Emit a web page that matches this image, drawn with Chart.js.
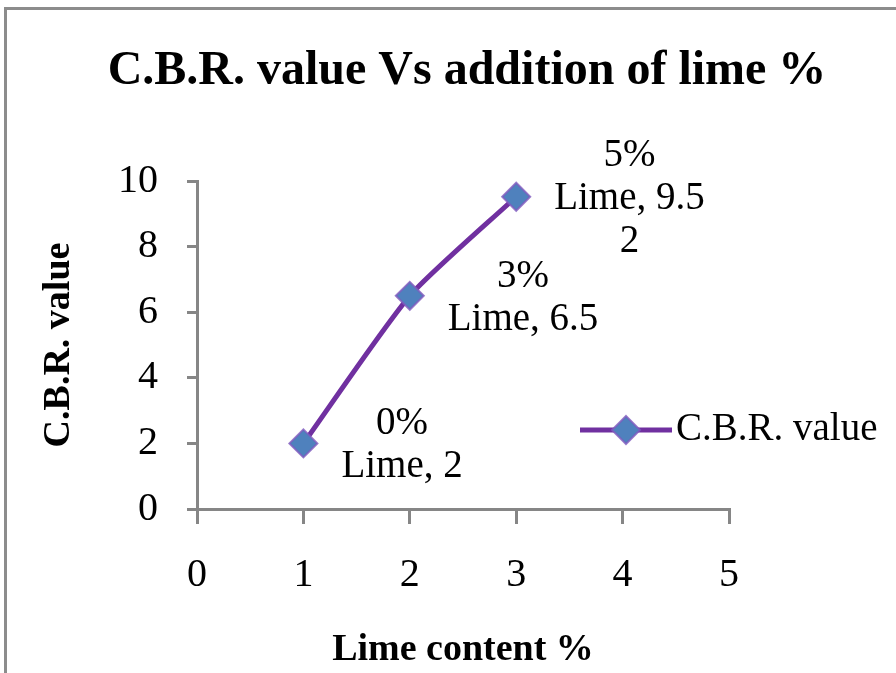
<!DOCTYPE html>
<html>
<head>
<meta charset="utf-8">
<script src="https://cdn.jsdelivr.net/npm/chart.js@4.4.1/dist/chart.umd.min.js"></script>
<style>
  html, body { margin: 0; padding: 0; background: #fff; }
  #cbr_chart { display: block; background: #fff; }
</style>
</head>
<body>
<canvas id="cbr_chart" width="896" height="673"></canvas>
<script>
// values
const limeContent = [1, 2, 3];
const cbrValues = [2, 6.5, 9.52];
const pointLabels = [["0%", "Lime, 2"], ["3%", "Lime, 6.5"], ["5%", "Lime, 9.5", "2"]];
const seriesName = "C.B.R. value";
const chartTitle = "C.B.R. value Vs addition of lime %";
const xTitle = "Lime content %";
const yTitle = "C.B.R. value";

const LINE_COLOR = "#7030A0";
const MARKER_COLOR = "#4F81BD";
const MARKER_EDGE = "rgba(128,90,190,0.8)";
const AXIS_COLOR = "#868686";
const SERIF = "'Liberation Serif', 'Times New Roman', serif";

const ctx = document.getElementById("cbr_chart").getContext("2d");

// gray border of the chart area (only left and top edges show)
const framePlugin = {
  id: "frame",
  beforeDraw(chart) {
    const c = chart.ctx;
    c.save();
    c.fillStyle = "#fff";
    c.fillRect(0, 0, chart.width, chart.height);
    c.strokeStyle = "#8c8c8c";
    c.lineWidth = 3;
    c.beginPath();
    c.moveTo(5.5, chart.height);
    c.lineTo(5.5, 8.5);
    c.lineTo(chart.width, 8.5);
    c.stroke();
    c.restore();
  },
};

function diamond(c, x, y, r) {
  c.beginPath();
  c.moveTo(x, y - r);
  c.lineTo(x + r, y);
  c.lineTo(x, y + r);
  c.lineTo(x - r, y);
  c.closePath();
  c.fillStyle = MARKER_COLOR;
  c.fill();
  c.strokeStyle = MARKER_EDGE;
  c.lineWidth = 2;
  c.stroke();
}

// data labels to the right of each point, wrapped like excel does
const pointLabelPlugin = {
  id: "pointLabels",
  afterDatasetsDraw(chart) {
    const meta = chart.getDatasetMeta(0);
    const c = chart.ctx;
    const lineH = 43;
    c.save();
    c.font = "39px " + SERIF;
    c.fillStyle = "#000";
    c.textAlign = "center";
    c.textBaseline = "middle";
    meta.data.forEach((pt, i) => {
      const lines = pointLabels[i];
      const w = Math.max(...lines.map((s) => c.measureText(s).width));
      const cx = pt.x + 38 + w / 2;
      const top = pt.y + 2 - ((lines.length - 1) * lineH) / 2;
      lines.forEach((s, j) => c.fillText(s, cx, top + j * lineH));
    });
    c.restore();
  },
};

// legend: line with marker + name, sitting right of the plot
const legendPlugin = {
  id: "sideLegend",
  afterDraw(chart) {
    const c = chart.ctx;
    const y = 430, x0 = 580, x1 = 672;
    c.save();
    c.strokeStyle = LINE_COLOR;
    c.lineWidth = 5;
    c.beginPath();
    c.moveTo(x0, y);
    c.lineTo(x1, y);
    c.stroke();
    diamond(c, (x0 + x1) / 2, y, 14);
    c.font = "39px " + SERIF;
    c.fillStyle = "#000";
    c.textAlign = "left";
    c.textBaseline = "middle";
    c.fillText(seriesName, x1 + 4, y);
    c.restore();
  },
};

const tickFont = { family: SERIF, size: 40 };
const axisTitleFont = { family: SERIF, size: 38, weight: "bold" };

new Chart(ctx, {
  type: "line",
  data: {
    datasets: [
      {
        label: seriesName,
        data: limeContent.map((x, i) => ({ x: x, y: cbrValues[i] })),
        yAxisID: "y",
        borderColor: LINE_COLOR,
        borderWidth: 5,
        tension: 0.2,
        fill: false,
        pointStyle: "rectRot",
        pointRadius: 14,
        pointBackgroundColor: MARKER_COLOR,
        pointBorderColor: MARKER_EDGE,
        pointBorderWidth: 2,
      },
    ],
  },
  options: {
    responsive: false,
    animation: false,
    layout: { padding: { left: 40, right: 2, top: 0, bottom: 0 } },
    plugins: {
      legend: { display: false },
      tooltip: { enabled: false },
      title: {
        display: true,
        text: chartTitle,
        color: "#000",
        font: { family: SERIF, size: 48, weight: "bold", lineHeight: 1.2 },
        padding: { top: 43, bottom: 80.4 },
      },
    },
    scales: {
      x: {
        type: "linear",
        min: 0,
        max: 5,
        ticks: { stepSize: 1, color: "#000", font: tickFont, padding: 27 },
        grid: { drawOnChartArea: false, color: AXIS_COLOR, lineWidth: 3, tickLength: 15 },
        border: { color: AXIS_COLOR, width: 3 },
        title: {
          display: true,
          text: xTitle,
          color: "#000",
          font: Object.assign({ lineHeight: 1.2 }, axisTitleFont),
          padding: { top: 0, bottom: 0 },
        },
        afterFit(scale) {
          scale.height = 164;
        },
      },
      y: {
        type: "linear",
        position: "left",
        min: 0,
        max: 10,
        ticks: { stepSize: 2, color: "#000", font: tickFont, padding: 29 },
        grid: { drawOnChartArea: false, color: AXIS_COLOR, lineWidth: 3, tickLength: 10 },
        border: { color: AXIS_COLOR, width: 3 },
        title: {
          display: true,
          text: yTitle,
          color: "#000",
          font: Object.assign({ lineHeight: 1 }, axisTitleFont),
          padding: { top: 0, bottom: 0 },
        },
        afterFit(scale) {
          scale.width = 157;
        },
      },
      // empty axis only to keep room for the legend on the right
      yPad: {
        axis: "y",
        type: "linear",
        position: "right",
        ticks: { display: false },
        grid: { display: false },
        border: { display: false },
        afterFit(scale) {
          scale.width = 165;
        },
      },
    },
  },
  plugins: [framePlugin, pointLabelPlugin, legendPlugin],
});
</script>
</body>
</html>
